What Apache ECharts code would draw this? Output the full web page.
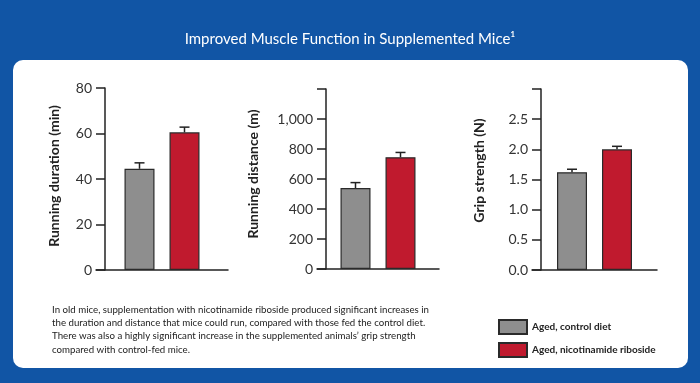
<!DOCTYPE html>
<html><head><meta charset="utf-8">
<script src="https://cdn.jsdelivr.net/npm/echarts@6/dist/echarts.min.js"></script>
<style>html,body{margin:0;padding:0;background:#1155a5;}#c{width:700px;height:383px;}</style>
</head><body><div id="c"></div>
<script>
// ---- data ----
const groups = ['Aged, control diet', 'Aged, nicotinamide riboside'];
const durationMean = [44.5, 60.5];
const durationErr = [2.6, 2.3];
const distanceMean = [540, 745];
const distanceErr = [36, 32];
const gripMean = [1.62, 2.0];
const gripErr = [0.05, 0.05];
const axisTitles = ['Running duration (min)', 'Running distance (m)', 'Grip strength (N)'];
const yMax = [80, 1200, 3.0];
const yStep = [20, 200, 0.5];
const titleText = 'Improved Muscle Function in Supplemented Mice\u00b9';
const noteLines = [
  'In old mice, supplementation with nicotinamide riboside produced significant increases in',
  'the duration and distance that mice could run, compared with those fed the control diet.',
  'There was also a highly significant increase in the supplemented animals\u2019 grip strength',
  'compared with control-fed mice.'
];

// ---- styles ----
const colors = ['#8e8e8e', '#c01a2e'];
const BAR_W = 30, GAP = 15;
const grids = [
  {left: 96, top: 88, width: 132, height: 182},
  {left: 317, top: 89, width: 122, height: 180},
  {left: 532, top: 89, width: 125, height: 181}
];
const nameGaps = [44, 66, 55];
const nameShift = [6, 10, 18];
const means = [durationMean, distanceMean, gripMean];
const errs = [durationErr, distanceErr, gripErr];
const fmt = [
  v => String(v),
  v => v >= 1200 ? '' : v.toLocaleString('en-US'),
  v => v >= 3 ? '' : v.toFixed(1)
];

const chart = echarts.init(document.getElementById('c'));
const xAxis = [], yAxis = [], series = [];
grids.forEach((g, p) => {
  xAxis.push({type: 'category', gridIndex: p, data: [''],
    axisLine: {lineStyle: {color: '#222', width: 1.5}}, axisTick: {show: false}, axisLabel: {show: false}});
  yAxis.push({type: 'value', gridIndex: p, min: 0, max: yMax[p], interval: yStep[p], offset: -9,
    axisLine: {show: true, lineStyle: {color: '#222', width: 1.5}},
    axisTick: {show: true, length: 9, lineStyle: {color: '#222', width: 1.5}},
    splitLine: {show: false},
    axisLabel: {margin: 13, color: '#333', fontSize: 14, fontFamily: 'Lato', formatter: fmt[p]},
    name: axisTitles[p], nameLocation: 'middle', nameRotate: 90, nameGap: nameGaps[p],
    nameTextStyle: {color: '#222', fontSize: 14, fontWeight: 'bold', fontFamily: 'Lato',
      padding: [0, 0, 0, nameShift[p]]}
  });
  groups.forEach((name, i) => {
    series.push({type: 'bar', name: name, xAxisIndex: p, yAxisIndex: p, data: [means[p][i]],
      barWidth: BAR_W, barGap: (GAP / BAR_W * 100) + '%',
      itemStyle: {color: colors[i], borderColor: '#2a2a2a', borderWidth: 1.2}});
  });
  series.push({type: 'custom', xAxisIndex: p, yAxisIndex: p, z: 5,
    data: means[p].map((m, i) => [0, m, errs[p][i], i === 0 ? -1 : 1]),
    encode: {x: 0, y: 1},
    renderItem: (params, api) => {
      const v = api.value(1), e = api.value(2), side = api.value(3);
      const b = api.coord([0, v]), t = api.coord([0, v + e]);
      const x = b[0] + side * (BAR_W + GAP) / 2;
      const st = {stroke: '#222', lineWidth: 1.5};
      return {type: 'group', children: [
        {type: 'line', shape: {x1: x, y1: b[1], x2: x, y2: t[1]}, style: st},
        {type: 'line', shape: {x1: x - 5, y1: t[1], x2: x + 5, y2: t[1]}, style: st}
      ]};
    }
  });
});

chart.setOption({
  backgroundColor: '#1155a5',
  animation: false,
  title: {text: titleText, left: 'center', top: 27,
    textStyle: {color: '#fff', fontSize: 15, fontWeight: 'normal', fontFamily: 'Lato'}},
  graphic: [
    {type: 'rect', z: -10, shape: {x: 13, y: 60, width: 675, height: 308, r: 10}, style: {fill: '#fff'}},
    {type: 'text', left: 52, top: 303, style: {text: noteLines.join('\n'), fill: '#222',
      font: '9.7px Lato, sans-serif', lineHeight: 13.3}}
  ],
  legend: {data: groups, orient: 'vertical', left: 498, top: 319, padding: 0, itemWidth: 28, itemHeight: 14, itemGap: 7,
    icon: 'rect', selectedMode: false,
    textStyle: {color: '#222', fontSize: 10, fontWeight: 'bold', fontFamily: 'Lato'}},
  grid: grids,
  xAxis: xAxis,
  yAxis: yAxis,
  series: series
});
</script></body></html>
